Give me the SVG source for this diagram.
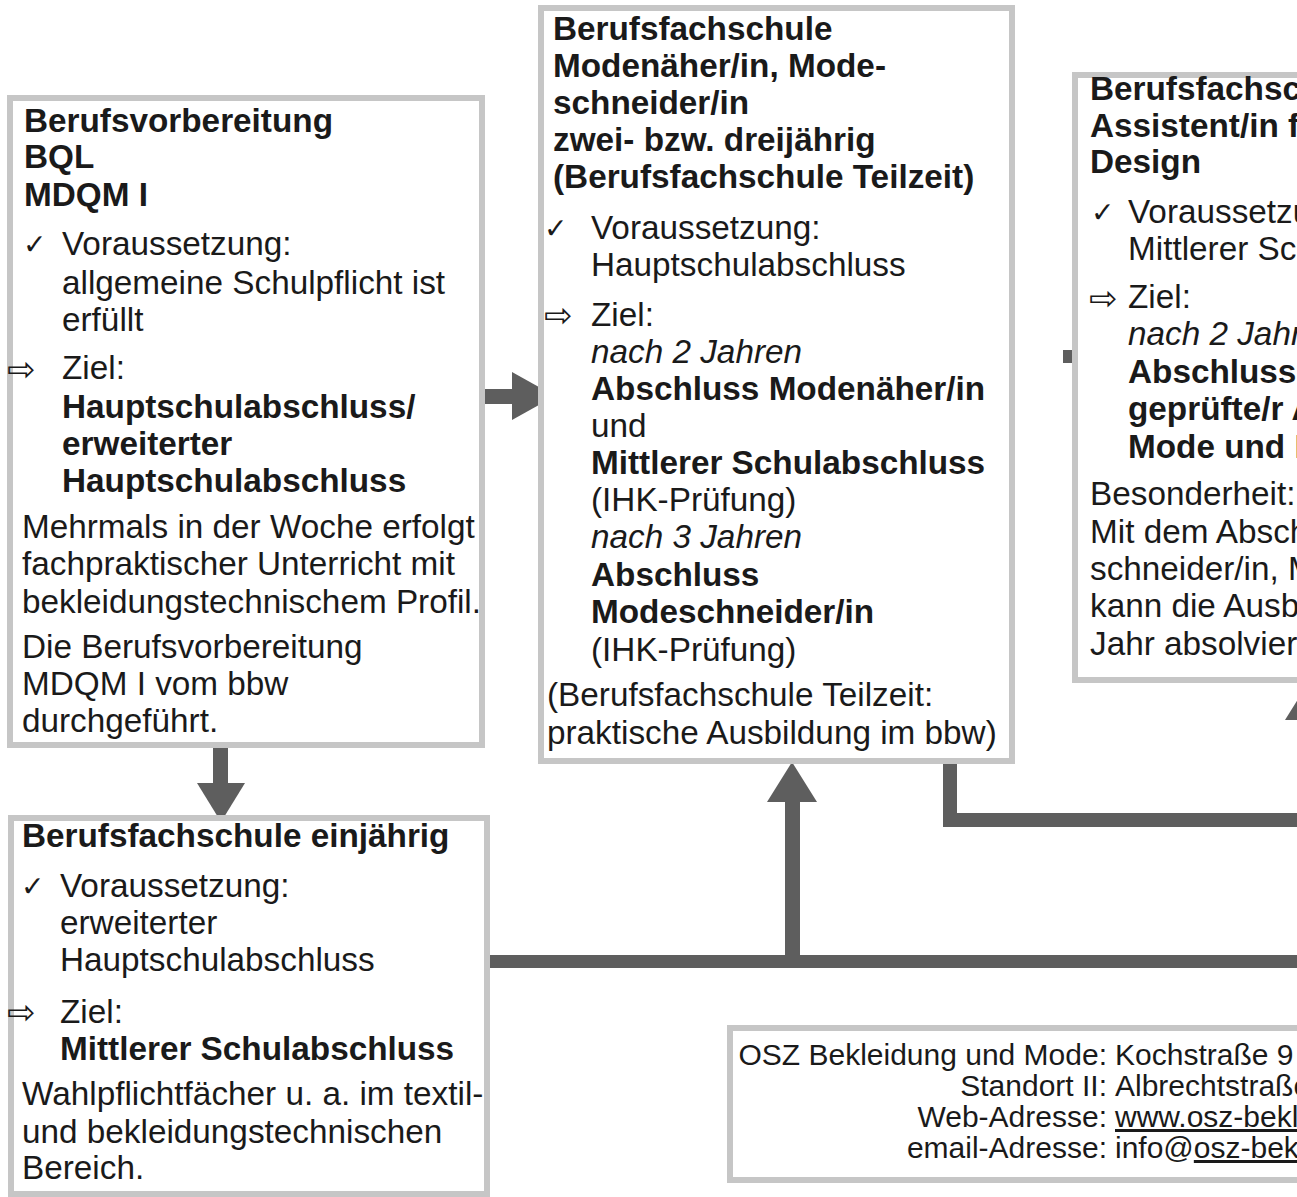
<svg xmlns="http://www.w3.org/2000/svg" width="1297" height="1197" viewBox="0 0 1297 1197">
<style>
text{font-family:"Liberation Sans",Arial,sans-serif;font-size:33.3px;fill:#1a1a1a}
.b{font-weight:bold}
.i{font-style:italic}
.ck{font-family:"DejaVu Sans",sans-serif;font-size:28px}
.ar{font-family:"DejaVu Sans",sans-serif;font-size:34px}
.ad{font-size:30px}
.ul{text-decoration:underline}
.box{fill:#fff;stroke:#c6c6c6;stroke-width:6}
.c{fill:#5e5e5e;stroke:none}
</style>
<rect width="1297" height="1197" fill="#fff"/>

<g id="connectors">
  <rect class="c" x="485" y="389" width="30" height="15"/>
  <polygon class="c" points="512,372 555,396 512,420"/>
  <rect class="c" x="213" y="748" width="15" height="37"/>
  <polygon class="c" points="197,783 245,783 221,822"/>
  <rect class="c" x="785" y="800" width="15" height="162"/>
  <polygon class="c" points="767,802 817,802 792,762"/>
  <rect class="c" x="485" y="955" width="812" height="13"/>
  <path class="c" d="M943,763 H957 V813 H1297 V827 H943 Z"/>
  <rect class="c" x="1302" y="718" width="16" height="100"/>
  <polygon class="c" points="1285,720 1335,720 1310,680"/>
  <rect class="c" x="1063" y="350" width="9" height="13"/>
</g>

<g id="node-berufsvorbereitung">
  <rect class="box" x="10" y="98" width="472" height="647"/>
  <text class="b" x="24" y="132">Berufsvorbereitung</text>
  <text class="b" x="24" y="168">BQL</text>
  <text class="b" x="24" y="206">MDQM I</text>
  <text class="ck" x="23" y="254">✓</text>
  <text x="62" y="255">Voraussetzung:</text>
  <text x="62" y="294">allgemeine Schulpflicht ist</text>
  <text x="62" y="331">erfüllt</text>
  <text class="ar" x="7" y="381">⇨</text>
  <text x="62" y="379">Ziel:</text>
  <text class="b" x="62" y="418">Hauptschulabschluss/</text>
  <text class="b" x="62" y="455">erweiterter</text>
  <text class="b" x="62" y="492">Hauptschulabschluss</text>
  <text x="22" y="538">Mehrmals in der Woche erfolgt</text>
  <text x="22" y="575">fachpraktischer Unterricht mit</text>
  <text x="22" y="613">bekleidungstechnischem Profil.</text>
  <text x="22" y="658">Die Berufsvorbereitung</text>
  <text x="22" y="695">MDQM I vom bbw</text>
  <text x="22" y="732">durchgeführt.</text>
</g>

<g id="node-bfs-modenaeher">
  <rect class="box" x="541" y="8" width="471" height="753"/>
  <text class="b" x="553" y="40">Berufsfachschule</text>
  <text class="b" x="553" y="77">Modenäher/in, Mode-</text>
  <text class="b" x="553" y="114">schneider/in</text>
  <text class="b" x="553" y="151">zwei- bzw. dreijährig</text>
  <text class="b" x="553" y="188">(Berufsfachschule Teilzeit)</text>
  <text class="ck" x="544" y="238">✓</text>
  <text x="591" y="239">Voraussetzung:</text>
  <text x="591" y="276">Hauptschulabschluss</text>
  <text class="ar" x="544" y="327">⇨</text>
  <text x="591" y="326">Ziel:</text>
  <text class="i" x="591" y="363">nach 2 Jahren</text>
  <text class="b" x="591" y="400">Abschluss Modenäher/in</text>
  <text x="591" y="437">und</text>
  <text class="b" x="591" y="474">Mittlerer Schulabschluss</text>
  <text x="591" y="511">(IHK-Prüfung)</text>
  <text class="i" x="591" y="548">nach 3 Jahren</text>
  <text class="b" x="591" y="586">Abschluss</text>
  <text class="b" x="591" y="623">Modeschneider/in</text>
  <text x="591" y="661">(IHK-Prüfung)</text>
  <text x="547" y="706">(Berufsfachschule Teilzeit:</text>
  <text x="547" y="744">praktische Ausbildung im bbw)</text>
</g>

<g id="node-bfs-assistent">
  <rect class="box" x="1075" y="75" width="300" height="605"/>
  <text class="b" x="1090" y="100">Berufsfachschule</text>
  <text class="b" x="1090" y="137">Assistent/in für</text>
  <text class="b" x="1090" y="173">Design</text>
  <text class="ck" x="1091" y="222">✓</text>
  <text x="1128" y="223">Voraussetzung:</text>
  <text x="1128" y="260">Mittlerer Schulabschluss</text>
  <text class="ar" x="1089" y="310">⇨</text>
  <text x="1128" y="308">Ziel:</text>
  <text class="i" x="1128" y="345">nach 2 Jahren</text>
  <text class="b" x="1128" y="383">Abschluss</text>
  <text class="b" x="1128" y="420">geprüfte/r Assistent/in</text>
  <text class="b" x="1128" y="458">Mode und Design</text>
  <text x="1090" y="505">Besonderheit:</text>
  <text x="1090" y="543">Mit dem Abschluss</text>
  <text x="1090" y="580">schneider/in, Modenäher/in</text>
  <text x="1090" y="617">kann die Ausbildung</text>
  <text x="1090" y="655">Jahr absolvieren</text>
</g>

<g id="node-bfs-einjaehrig">
  <rect class="box" x="11" y="818" width="476" height="376"/>
  <text class="b" x="22" y="847">Berufsfachschule einjährig</text>
  <text class="ck" x="21" y="896">✓</text>
  <text x="60" y="897">Voraussetzung:</text>
  <text x="60" y="934">erweiterter</text>
  <text x="60" y="971">Hauptschulabschluss</text>
  <text class="ar" x="7" y="1024">⇨</text>
  <text x="60" y="1023">Ziel:</text>
  <text class="b" x="60" y="1060">Mittlerer Schulabschluss</text>
  <text x="22" y="1105">Wahlpflichtfächer u. a. im textil-</text>
  <text x="22" y="1143">und bekleidungstechnischen</text>
  <text x="22" y="1179">Bereich.</text>
</g>

<g id="node-adresse">
  <rect class="box" x="730" y="1028" width="600" height="152"/>
  <text class="ad" x="1107" y="1065" text-anchor="end">OSZ Bekleidung und Mode:</text>
  <text class="ad" x="1115" y="1065">Kochstraße 9</text>
  <text class="ad" x="1107" y="1096" text-anchor="end">Standort II:</text>
  <text class="ad" x="1115" y="1096">Albrechtstraße</text>
  <text class="ad" x="1107" y="1127" text-anchor="end">Web-Adresse:</text>
  <text class="ad" x="1115" y="1127"><tspan class="ul">www.osz-bekleidung</tspan></text>
  <text class="ad" x="1107" y="1158" text-anchor="end">email-Adresse:</text>
  <text class="ad" x="1115" y="1158">info@<tspan class="ul">osz-bekleidung</tspan></text>
</g>
</svg>
